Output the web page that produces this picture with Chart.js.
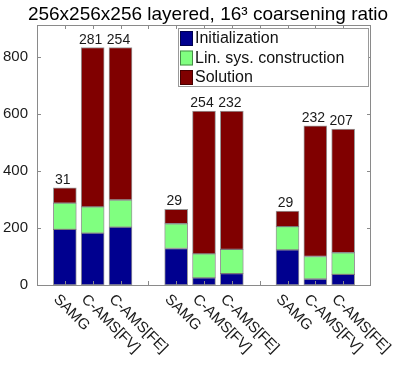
<!DOCTYPE html>
<html lang="en">
<head>
<meta charset="UTF-8">
<title>256x256x256 layered</title>
<script src="https://cdn.jsdelivr.net/npm/chart.js"></script>
<style>
  body { margin: 0; background: #fff; }
  #wrap { width: 401px; height: 374px; position: relative; }
</style>
</head>
<body>
<div id="wrap"><canvas id="chart"></canvas></div>
<script>
// categories (empty slots are the gaps between the three groups)
const categories = ['', 'SAMG', 'C-AMS[FV]', 'C-AMS[FE]', '', 'SAMG', 'C-AMS[FV]', 'C-AMS[FE]', '', 'SAMG', 'C-AMS[FV]', 'C-AMS[FE]', ''];
const initTime = [null, 195, 182, 203, null, 128, 25, 40, null, 123, 21, 37, null];
const linSysTime = [null, 92, 92, 95, null, 87, 84, 85, null, 82, 79, 76, null];
const solutionTime = [null, 54, 559, 535, null, 50, 501, 485, null, 54, 458, 434, null];
const iterations = [null, 31, 281, 254, null, 29, 254, 232, null, 29, 232, 207, null];
const yTicks = [0, 200, 400, 600, 800];
const yMax = 912;
const titleText = '256x256x256 layered, 16\u00b3 coarsening ratio';

const FONT = '"Liberation Sans", Arial, sans-serif';
const AXIS = '#8a8a8a';

// draws the matlab-style box, ticks, labels, legend and title
const decorations = {
  id: 'decorations',
  afterDraw(chart) {
    const ctx = chart.ctx;
    const x = chart.scales.x, y = chart.scales.y;
    const a = chart.chartArea;
    ctx.save();

    // box
    ctx.strokeStyle = AXIS;
    ctx.lineWidth = 1;
    ctx.strokeRect(a.left + 0.5, a.top + 0.5, a.right - a.left - 1, a.bottom - a.top);

    // y ticks, both sides, inward
    ctx.beginPath();
    yTicks.forEach(v => {
      const py = Math.round(y.getPixelForValue(v)) + 0.5;
      ctx.moveTo(a.left, py); ctx.lineTo(a.left + 4, py);
      ctx.moveTo(a.right, py); ctx.lineTo(a.right - 4, py);
    });
    // x ticks, top and bottom, inward
    for (let i = 1; i < categories.length - 1; i++) {
      const px = Math.round(x.getPixelForValue(i)) + 0.5;
      ctx.moveTo(px, a.top); ctx.lineTo(px, a.top + 4);
      ctx.moveTo(px, a.bottom); ctx.lineTo(px, a.bottom - 4);
    }
    ctx.stroke();

    // rotated category labels
    ctx.fillStyle = '#1a1a1a';
    ctx.font = '15px ' + FONT;
    ctx.textAlign = 'left';
    ctx.textBaseline = 'middle';
    categories.forEach((c, i) => {
      if (!c) return;
      const px = x.getPixelForValue(i);
      ctx.save();
      ctx.translate(px - 9, a.bottom + 12);
      ctx.rotate(Math.PI / 4);
      ctx.fillText(c, 0, 0);
      ctx.restore();
    });

    // iteration counts above the stacks
    ctx.font = '14px ' + FONT;
    ctx.textAlign = 'center';
    ctx.textBaseline = 'alphabetic';
    iterations.forEach((n, i) => {
      if (n == null) return;
      const total = initTime[i] + linSysTime[i] + solutionTime[i];
      ctx.fillText(String(n), x.getPixelForValue(i) - 2, y.getPixelForValue(total) - 4);
    });

    // legend inside the axes
    const lx = 178.5, ly = 28.5, lw = 190, lh = 58;
    ctx.fillStyle = '#fff';
    ctx.fillRect(lx, ly, lw, lh);
    ctx.strokeStyle = '#999';
    ctx.strokeRect(lx, ly, lw, lh);
    ctx.font = '16px ' + FONT;
    ctx.textAlign = 'left';
    ctx.textBaseline = 'middle';
    chart.data.datasets.forEach((ds, k) => {
      const ry = 31 + k * 19.5;
      ctx.fillStyle = ds.backgroundColor;
      ctx.fillRect(180, ry, 13, 15);
      ctx.strokeStyle = 'rgba(0,0,0,0.45)';
      ctx.strokeRect(180.5, ry + 0.5, 12, 14);
      ctx.fillStyle = '#111';
      ctx.fillText(ds.label, 195, ry + 8);
    });

    // title
    ctx.font = '19px ' + FONT;
    ctx.textAlign = 'center';
    ctx.textBaseline = 'alphabetic';
    ctx.fillStyle = '#000';
    ctx.fillText(titleText, 208, 19.5);

    ctx.restore();
  }
};

function barSet(label, data, color) {
  return {
    label: label,
    data: data,
    backgroundColor: color,
    borderColor: 'rgba(0,0,0,0.4)',
    borderWidth: 1,
    borderSkipped: false,
    barThickness: 23
  };
}

new Chart(document.getElementById('chart'), {
  type: 'bar',
  data: {
    labels: categories,
    datasets: [
      barSet('Initialization', initTime, '#00008f'),
      barSet('Lin. sys. construction', linSysTime, '#80ff80'),
      barSet('Solution', solutionTime, '#800000')
    ]
  },
  options: {
    responsive: true,
    maintainAspectRatio: false,
    animation: false,
    layout: { padding: { top: 25, right: 30, left: 0, bottom: 0 } },
    plugins: {
      legend: { display: false },
      title: { display: false },
      tooltip: { enabled: false }
    },
    scales: {
      x: {
        stacked: true,
        offset: false,
        grid: { display: false },
        border: { display: false },
        ticks: { display: false },
        afterFit(scale) { scale.height = 89; }
      },
      y: {
        stacked: true,
        min: 0,
        max: yMax,
        grid: { display: false, drawTicks: false },
        border: { display: false },
        ticks: {
          stepSize: 200,
          includeBounds: false,
          padding: 9,
          color: '#1a1a1a',
          font: { family: FONT, size: 15 }
        },
        afterFit(scale) { scale.width = 37; }
      }
    }
  },
  plugins: [decorations]
});
</script>
</body>
</html>
